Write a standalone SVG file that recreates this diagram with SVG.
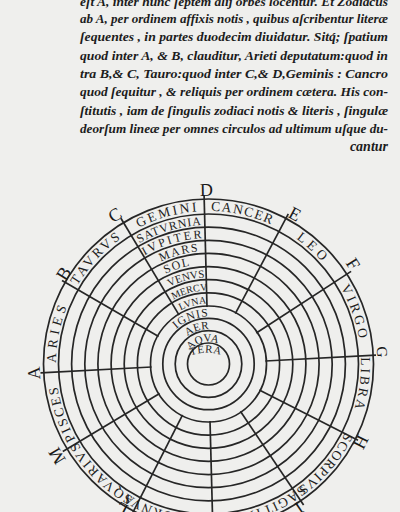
<svg xmlns="http://www.w3.org/2000/svg" width="400" height="512" viewBox="0 0 400 512">
<style>
.ring{fill:none;stroke:#262626;stroke-width:1.7}
.div{stroke:#262626;stroke-width:1.7;fill:none}
.lab{font-family:"Liberation Serif","DejaVu Serif",serif;fill:#1e1e1e}
.zod{font-size:13.5px;letter-spacing:2.5px}
.pl{font-size:12px}
.let{font-family:"Liberation Serif","DejaVu Serif",serif;font-size:18px;fill:#1a1a1a;text-anchor:middle;dominant-baseline:central}
.body{font-family:"Liberation Serif","DejaVu Serif",serif;font-style:italic;font-weight:bold;font-size:13px;fill:#1c1c1c}
</style>
<defs>
<path id="zc" d="M56.21,371.98 A152.5,152.5 0 1 1 360.79,356.02 A152.5,152.5 0 1 1 56.21,371.98"/>
<path id="p-sat" d="M136.91,244.85 A139,139 0 0 1 204.86,225.05"/>
<path id="p-iup" d="M143.60,256.00 A126,126 0 0 1 205.20,238.04"/>
<path id="p-mar" d="M150.30,267.14 A113,113 0 0 1 205.54,251.04"/>
<path id="p-sol" d="M157.00,278.28 A100,100 0 0 1 205.88,264.03"/>
<path id="p-ven" d="M163.95,289.85 A86.5,86.5 0 0 1 206.24,277.53"/>
<path id="p-mer" d="M170.64,301.00 A73.5,73.5 0 0 1 206.58,290.52"/>
<path id="p-lun" d="M177.34,312.14 A60.5,60.5 0 0 1 206.92,303.52"/>
<path id="p-ign" d="M161.58,356.57 A47.5,47.5 0 0 1 238.39,327.09"/>
<path id="p-aer" d="M174.26,356.72 A35,35 0 0 1 231.92,337.99"/>
<path id="p-aqu" d="M186.87,357.80 A22.5,22.5 0 0 1 224.69,348.37"/>
<path id="p-ter" d="M186,358 Q205,348 226,357"/>
</defs>
<rect x="0" y="0" width="400" height="512" fill="#efefed"/>

<g id="text-block" class="body">
<text x="80" y="6" textLength="308" lengthAdjust="spacingAndGlyphs">eſt A, inter hunc ſeptem alij orbes locentur. Et Zodiacus</text>
<text x="80" y="23" textLength="308" lengthAdjust="spacingAndGlyphs">ab A, per ordinem affixis notis , quibus aſcribentur literæ</text>
<text x="80" y="41.3" textLength="308" lengthAdjust="spacingAndGlyphs">ſequentes , in partes duodecim diuidatur. Sitq́; ſpatium</text>
<text x="80" y="59.6" textLength="308" lengthAdjust="spacingAndGlyphs">quod inter A, &amp; B, clauditur, Arieti deputatum:quod in</text>
<text x="80" y="78" textLength="308" lengthAdjust="spacingAndGlyphs">tra B,&amp; C, Tauro:quod inter C,&amp; D,Geminis : Cancro</text>
<text x="80" y="96.3" textLength="308" lengthAdjust="spacingAndGlyphs">quod ſequitur , &amp; reliquis per ordinem cætera. His con-</text>
<text x="80" y="114.6" textLength="308" lengthAdjust="spacingAndGlyphs">ſtitutis , iam de ſingulis zodiaci notis &amp; literis , ſingulæ</text>
<text x="80" y="133" textLength="308" lengthAdjust="spacingAndGlyphs">deorſum lineæ per omnes circulos ad ultimum uſque du-</text>
<text x="388" y="150.5" text-anchor="end" style="font-size:14px">cantur</text>
</g>

<g id="circles">
<circle class="ring" cx="208.5" cy="364" r="165"/>
<circle class="ring" cx="208.5" cy="364" r="150"/>
<circle class="ring" cx="208.5" cy="364" r="136.9"/>
<circle class="ring" cx="208.5" cy="364" r="123.7"/>
<circle class="ring" cx="208.5" cy="364" r="110.6"/>
<circle class="ring" cx="208.5" cy="364" r="97.4"/>
<circle class="ring" cx="208.5" cy="364" r="84.3"/>
<circle class="ring" cx="208.5" cy="364" r="71.1"/>
<circle class="ring" cx="208.5" cy="364" r="58"/>
<circle class="ring" cx="208.5" cy="364" r="45.7"/>
<circle class="ring" cx="208.5" cy="364" r="33.3"/>
<circle class="ring" cx="208.5" cy="364" r="21"/>
</g>

<g id="connectors">
<line class="div" x1="40.5" y1="372.8" x2="151.6" y2="367"/>
<line class="div" x1="62" y1="280.4" x2="158.6" y2="336.4"/>
<line class="div" x1="120.9" y1="218.3" x2="179.1" y2="315.1"/>
<line class="div" x1="204.1" y1="196" x2="207" y2="307"/>
<line class="div" x1="288.3" y1="213.9" x2="235.3" y2="313.7"/>
<line class="div" x1="351.1" y1="271.4" x2="256.3" y2="333"/>
<line class="div" x1="376" y1="355.2" x2="265.4" y2="361"/>
<line class="div" x1="358" y1="440.2" x2="259.3" y2="389.9"/>
<line class="div" x1="303.6" y1="504.9" x2="240.4" y2="411.3"/>
<line class="div" x1="213" y1="534" x2="210" y2="421"/>
<line class="div" x1="131.3" y1="515.5" x2="182.6" y2="414.8"/>
<line class="div" x1="62.8" y1="451.6" x2="159.6" y2="393.4"/>
</g>

<g id="zodiac-labels" class="lab zod">
<text id="aries" text-anchor="middle" style="letter-spacing:4.5px"><textPath href="#zc" startOffset="39.9">ARIES</textPath></text>
<text id="taurus" text-anchor="middle" style="letter-spacing:2.8px"><textPath href="#zc" startOffset="123.8">TAVRVS</textPath></text>
<text id="gemini" text-anchor="middle" style="letter-spacing:2.4px"><textPath href="#zc" startOffset="207">GEMINI</textPath></text>
<text id="cancer" text-anchor="middle" style="letter-spacing:1.4px"><textPath href="#zc" startOffset="282.1">CANCER</textPath></text>
<text id="leo" text-anchor="middle" style="letter-spacing:4px"><textPath href="#zc" startOffset="360.6">LEO</textPath></text>
<text id="virgo" text-anchor="middle" style="letter-spacing:3px"><textPath href="#zc" startOffset="436.5">VIRGO</textPath></text>
<text id="libra" text-anchor="middle" style="letter-spacing:2.7px"><textPath href="#zc" startOffset="508.4">LIBRA</textPath></text>
<text id="scorpius" text-anchor="middle" style="letter-spacing:1.3px"><textPath href="#zc" startOffset="596.2">SCORPIVS</textPath></text>
<text id="sagittarius" text-anchor="middle" style="letter-spacing:1.3px"><textPath href="#zc" startOffset="678.7">SAGITTARIVS</textPath></text>
<text id="capricornus" text-anchor="middle" style="letter-spacing:1.3px"><textPath href="#zc" startOffset="761.2">CAPRICORNVS</textPath></text>
<text id="aquarius" text-anchor="middle" style="letter-spacing:2px"><textPath href="#zc" startOffset="846.4">AQVARIVS</textPath></text>
<text id="pisces" text-anchor="middle" style="letter-spacing:2.3px"><textPath href="#zc" startOffset="918.3">PISCES</textPath></text>
</g>

<g id="sphere-labels" class="lab pl">
<text id="saturnia" text-anchor="middle" style="letter-spacing:0.8px"><textPath href="#p-sat" startOffset="50%">SATVRNIA</textPath></text>
<text id="iupiter" text-anchor="middle" style="letter-spacing:2.4px"><textPath href="#p-iup" startOffset="50%">IVPITER</textPath></text>
<text id="mars" text-anchor="middle" style="letter-spacing:1.5px"><textPath href="#p-mar" startOffset="55%">MARS</textPath></text>
<text id="sol" text-anchor="middle" style="letter-spacing:1.5px"><textPath href="#p-sol" startOffset="45%">SOL</textPath></text>
<text id="venus" text-anchor="middle" style="font-size:11px"><textPath href="#p-ven" startOffset="55%">VENVS</textPath></text>
<text id="mercurius" text-anchor="middle" style="font-size:10px"><textPath href="#p-mer" startOffset="55%">MERCV</textPath></text>
<text id="luna" text-anchor="middle" style="font-size:10px"><textPath href="#p-lun" startOffset="55%">LVNA</textPath></text>
<text id="ignis" text-anchor="middle" style="font-size:11.5px;letter-spacing:1px"><textPath href="#p-ign" startOffset="50%">IGNIS</textPath></text>
<text id="aer" text-anchor="middle" style="font-size:11px;letter-spacing:0.5px"><textPath href="#p-aer" startOffset="50%">AER</textPath></text>
<text id="aqua" text-anchor="middle" style="font-size:11px"><textPath href="#p-aqu" startOffset="50%">AQVA</textPath></text>
<text id="terra" text-anchor="middle" style="font-size:11px;letter-spacing:0.5px"><textPath href="#p-ter" startOffset="50%">TERA</textPath></text>
</g>

<g id="letters">
<text id="lA" class="let" transform="translate(34,373) rotate(-93)">A</text>
<text id="lB" class="let" transform="translate(63.5,273.4) rotate(-58)">B</text>
<text id="lC" class="let" transform="translate(115,215) rotate(-32)">C</text>
<text id="lD" class="let" transform="translate(206.5,190) rotate(-1)">D</text>
<text id="lE" class="let" transform="translate(295,214) rotate(28)">E</text>
<text id="lF" class="let" transform="translate(353,264) rotate(57)">F</text>
<text id="lG" class="let" transform="translate(382,352) rotate(87)" style="font-size:15px">G</text>
<text id="lH" class="let" transform="translate(361,442) rotate(117)">H</text>
<text id="lI" class="let" transform="translate(299,508) rotate(146)">I</text>
<text id="lL" class="let" transform="translate(122,509) rotate(-153)">L</text>
<text id="lM" class="let" transform="translate(57,456) rotate(-121)">M</text>
</g>
</svg>
